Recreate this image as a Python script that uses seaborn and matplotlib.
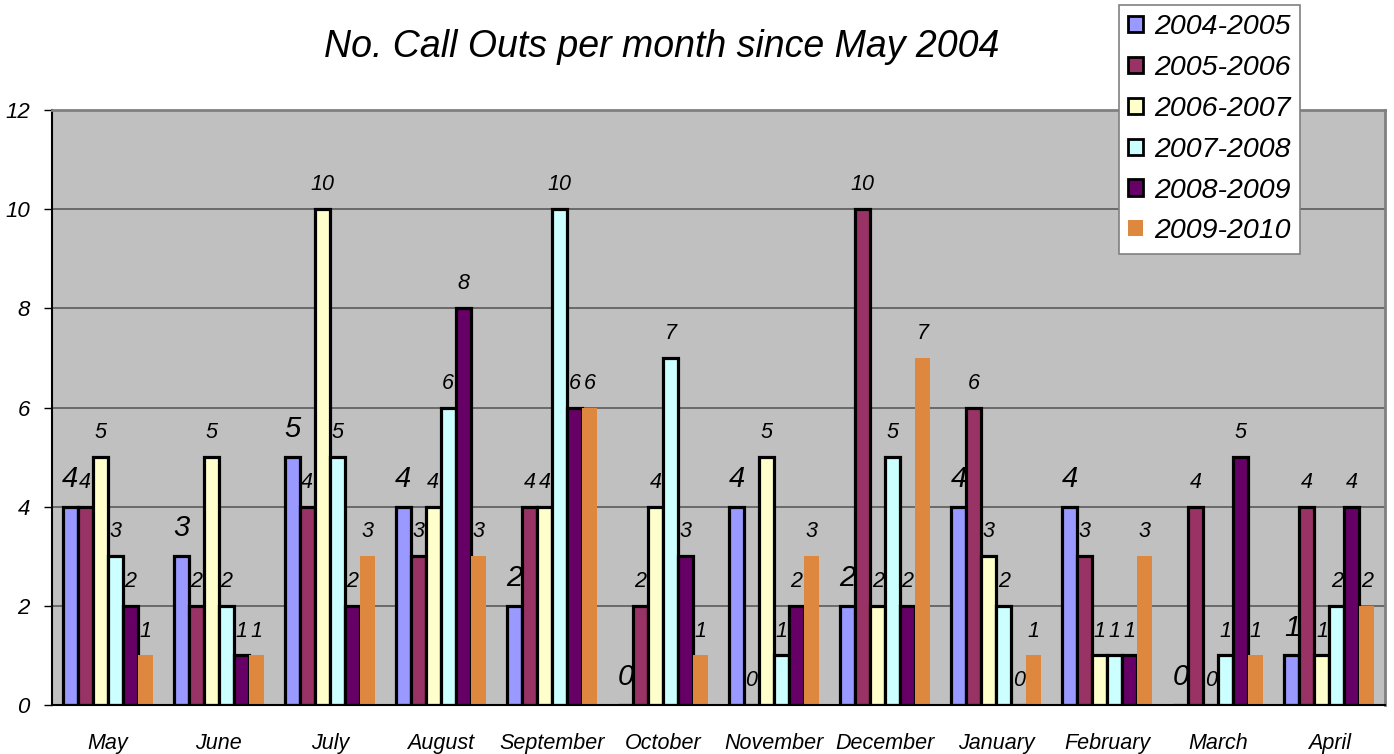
import matplotlib
matplotlib.use('Agg')
import matplotlib.pyplot as plt
from matplotlib.patches import Patch
import seaborn as sns
import pandas as pd

sns.set_style('white')
plt.rcParams['font.family'] = ['Liberation Sans', 'DejaVu Sans']
plt.rcParams['font.style'] = 'italic'
plt.rcParams['text.color'] = 'black'
plt.rcParams['xtick.color'] = 'black'
plt.rcParams['ytick.color'] = 'black'

months = ['May', 'June', 'July', 'August', 'September', 'October',
          'November', 'December', 'January', 'February', 'March', 'April']
seasons = ['2004-2005', '2005-2006', '2006-2007', '2007-2008', '2008-2009', '2009-2010']

s2004 = [4, 3, 5, 4, 2, 0, 4, 2, 4, 4, 0, 1]
s2005 = [4, 2, 4, 3, 4, 2, 0, 10, 6, 3, 4, 4]
s2006 = [5, 5, 10, 4, 4, 4, 5, 2, 3, 1, 0, 1]
s2007 = [3, 2, 5, 6, 10, 7, 1, 5, 2, 1, 1, 2]
s2008 = [2, 1, 2, 8, 6, 3, 2, 2, 0, 1, 5, 4]
s2009 = [1, 1, 3, 3, 6, 1, 3, 7, 1, 3, 1, 2]

colors = ['#9999FF', '#993366', '#FFFFCC', '#CCFFFF', '#660066', '#DE873E']

rows = []
for season, vals in zip(seasons, [s2004, s2005, s2006, s2007, s2008, s2009]):
    for m, v in zip(months, vals):
        rows.append({'month': m, 'season': season, 'calls': v})
df = pd.DataFrame(rows)

fig = plt.figure(figsize=(13.94, 7.54), dpi=100)
ax = fig.add_axes([52 / 1394, 49 / 754, 1333 / 1394, 595 / 754])

sns.barplot(data=df, x='month', y='calls', hue='season', order=months, hue_order=seasons,
            palette=colors, width=0.81, edgecolor='black', linewidth=2.3, saturation=1,
            legend=False, ax=ax)

for i, cont in enumerate(ax.containers):
    if i == 5:
        for p in cont:
            p.set_edgecolor('none')
            p.set_linewidth(0)
    size = 21 if i == 0 else 15.5
    ax.bar_label(cont, fmt='%d', padding=10, fontsize=size, fontstyle='italic', color='black')

ax.set_facecolor('#C0C0C0')
ax.set_xlim(-0.5, 11.5)
ax.set_ylim(0, 12)
ax.set_yticks(range(0, 13, 2))
ax.yaxis.grid(True, color='#5A5A5A', linewidth=1.2)
ax.set_axisbelow(True)
ax.set_xlabel('')
ax.set_ylabel('')

ax.set_xticks([i - 0.5 for i in range(13)], minor=True)
ax.tick_params(axis='x', which='major', length=0, pad=20, labelsize=15.5)
ax.tick_params(axis='x', which='minor', length=6, width=1, color='#333333', direction='out')
ax.tick_params(axis='y', length=6, width=1, color='black', direction='out', pad=10, labelsize=16)
ax.tick_params(axis='both', bottom=True, left=True)

for s in ['left', 'bottom']:
    ax.spines[s].set_color('black')
    ax.spines[s].set_linewidth(1.5)
for s in ['top', 'right']:
    ax.spines[s].set_color('#808080')
    ax.spines[s].set_linewidth(2)

fig.text(0.475, 0.9377, 'No. Call Outs per month since May 2004', fontsize=27,
         fontstyle='italic', ha='center', va='center', color='black')

handles = []
for i, c in enumerate(colors):
    ec = 'none' if i == 5 else 'black'
    handles.append(Patch(facecolor=c, edgecolor=ec, linewidth=2))
leg = fig.legend(handles, seasons, loc='upper left', bbox_to_anchor=(1119 / 1394, 1 - 5 / 754),
                 fontsize=20.5, frameon=True, fancybox=False, framealpha=1,
                 edgecolor='#808080', handlelength=0.5, handleheight=0.5,
                 handletextpad=0.4, labelspacing=0.52, borderpad=0.33, borderaxespad=0)
leg.get_frame().set_linewidth(1.2)
for t in leg.get_texts():
    t.set_fontstyle('italic')
    t.set_color('black')

fig.savefig('out.png', dpi=100)
